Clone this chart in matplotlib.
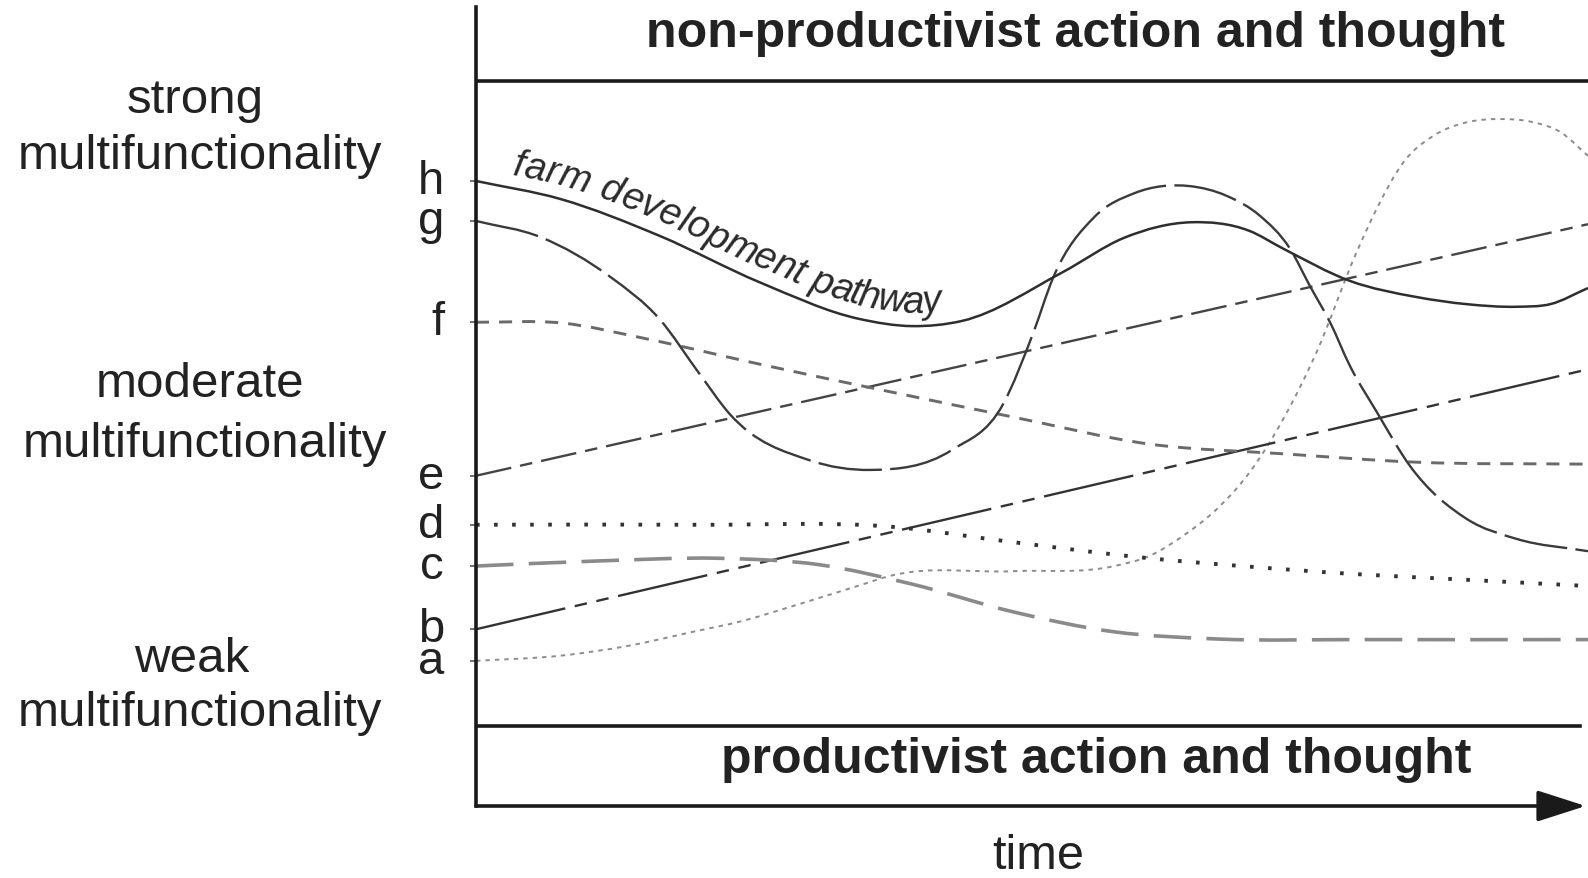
import numpy as np
import matplotlib

matplotlib.use("Agg")
import matplotlib.pyplot as plt
from matplotlib.path import Path
from matplotlib.patches import PathPatch
from matplotlib.font_manager import FontProperties

plt.rcParams["font.family"] = ["Liberation Sans", "DejaVu Sans"]
plt.rcParams["lines.scale_dashes"] = False

W, H, DPI = 1588, 879, 100
INK = "#1a1a1a"

# time axis runs 0..100, multifunctionality level 0 (productivist) .. 100 (non-productivist)
t_a = [0, 7.6, 13.6, 19.5, 24.0, 28.5, 34.3, 37.3, 48.3, 57.4, 60.6, 63.6, 66.6,
       69.6, 72.6, 75.6, 79.2, 81.0, 83.4, 86.1, 89.1, 92.1, 95.1, 97.5, 100]
lev_a = [10.1, 10.9, 12.4, 14.6, 16.3, 18.6, 21.7, 23.3, 24.0, 24.8, 26.4, 29.5, 33.6,
         39.4, 47.6, 58.0, 73.5, 80.2, 87.4, 91.5, 93.6, 94.1, 93.6, 92.1, 88.4]

t_b = [0, 100]
lev_b = [15.0, 55.3]

t_c = [0, 11.2, 21.9, 30.9, 39.2, 48.3, 57.4, 66.5, 80.0, 100]
lev_c = [24.8, 25.6, 26.0, 25.0, 22.0, 17.7, 14.6, 13.5, 13.4, 13.4]

t_d = [0, 20.1, 37.3, 48.3, 60.6, 69.6, 78.6, 87.6, 100]
lev_d = [31.2, 31.2, 30.9, 28.5, 26.0, 24.7, 23.6, 22.8, 21.7]

t_e = [0, 100]
lev_e = [38.8, 77.8]

t_f = [0, 7.6, 15.4, 25.5, 37.3, 48.3, 60.6, 72.6, 84.6, 100]
lev_f = [62.6, 62.5, 60.0, 56.1, 51.8, 47.9, 43.7, 42.2, 40.9, 40.6]

t_g = [0, 5.8, 12.1, 16.5, 20.1, 22.8, 30.0, 35.5, 42.8, 47.4, 50.1, 51.9, 55.6,
       59.2, 64.2, 67.5, 70.5, 73.2, 75.0, 76.8, 78.6, 81.0, 84.0, 89.1, 93.6, 100]
lev_g = [78.3, 75.8, 69.6, 63.1, 54.6, 48.4, 41.2, 39.7, 42.8, 49.9, 60.9, 69.5, 78.9,
         82.6, 83.7, 82.2, 79.1, 74.0, 68.2, 62.6, 55.8, 48.7, 40.3, 32.1, 29.0, 27.1]

t_h = [0, 7.6, 16.5, 25.5, 34.5, 39.2, 43.7, 52.8, 58.3, 64.3, 69.5, 72.6, 78.6,
       84.6, 89.1, 93.6, 96.6, 100]
lev_h = [84.5, 81.7, 76.0, 68.8, 63.1, 62.0, 62.8, 70.4, 75.7, 78.1, 76.8, 74.0, 69.0,
         66.5, 65.4, 65.0, 65.4, 67.9]

labels = ["a", "b", "c", "d", "e", "f", "g", "h"]
series_t = [t_a, t_b, t_c, t_d, t_e, t_f, t_g, t_h]
series_lev = [lev_a, lev_b, lev_c, lev_d, lev_e, lev_f, lev_g, lev_h]

# line styles (dash patterns in points)
styles = {
    "a": dict(color="#8c8c8c", lw=1.4, dashes=(3.2, 3.6)),
    "b": dict(color="#333333", lw=1.7, dashes=(66, 7, 9, 7, 9, 7)),
    "c": dict(color="#8a8a8a", lw=2.6, dashes=(27, 11)),
    "d": dict(color="#333333", lw=2.8, dashes=(2.6, 10.4)),
    "e": dict(color="#444444", lw=1.7, dashes=(26, 6.5, 9, 6.5)),
    "f": dict(color="#6a6a6a", lw=2.1, dashes=(9.4, 7.2)),
    "g": dict(color="#3a3a3a", lw=1.7, dashes=(46, 6)),
    "h": dict(color="#2e2e2e", lw=1.8, dashes=None),
}


def spline_ctrl(x, y):
    """Cubic Hermite through the read points (tangents from neighbours), as beziers."""
    x = np.asarray(x, float)
    y = np.asarray(y, float)
    m = np.gradient(y, x)
    segs = []
    for i in range(len(x) - 1):
        dx = (x[i + 1] - x[i]) / 3
        segs.append((np.array([x[i], y[i]]),
                     np.array([x[i] + dx, y[i] + m[i] * dx]),
                     np.array([x[i + 1] - dx, y[i + 1] - m[i + 1] * dx]),
                     np.array([x[i + 1], y[i + 1]])))
    return segs


def spline_path(x, y):
    segs = spline_ctrl(x, y)
    verts = [segs[0][0]]
    codes = [Path.MOVETO]
    for s in segs:
        verts += [s[1], s[2], s[3]]
        codes += [Path.CURVE4] * 3
    return Path(np.array(verts), codes)


def spline_sample(x, y, n=60):
    u = np.linspace(0, 1, n)[:, None]
    out = []
    for a, b, c, d in spline_ctrl(x, y):
        out.append((1 - u) ** 3 * a + 3 * (1 - u) ** 2 * u * b + 3 * (1 - u) * u ** 2 * c + u ** 3 * d)
    return np.vstack(out)


fig = plt.figure(figsize=(W / DPI, H / DPI), dpi=DPI)
# frame: left spine x=476..1588 px, y=8..807 px ; level 0 at y=727, level 100 at y=82
px_per_lev = (727 - 82) / 100
ax = fig.add_axes([476 / W, (H - 807) / H, (W - 476) / W, (807 - 8) / H])
ax.set_xlim(0, 100)
ax.set_ylim(-(807 - 727) / px_per_lev, 100 + (82 - 8) / px_per_lev)

for name, tt, yy in zip(labels, series_t, series_lev):
    st = styles[name]
    ls = "-" if st["dashes"] is None else (0, st["dashes"])
    ax.add_patch(PathPatch(spline_path(tt, yy), fill=False, edgecolor=st["color"],
                           lw=st["lw"], linestyle=ls, capstyle="butt", joinstyle="round"))

# band boundaries
ax.axhline(100, color=INK, lw=2.6)
ax.axhline(0, xmax=(1580 - 476) / (W - 476), color=INK, lw=2.6)

for sp in ["top", "right", "bottom"]:
    ax.spines[sp].set_visible(False)
ax.spines["left"].set_linewidth(2.6)
ax.spines["left"].set_color(INK)
ax.set_xticks([])
ax.set_yticks([s[0] for s in series_lev], labels)
ax.tick_params(axis="y", length=4, width=1.2, color="#555555", pad=19,
               labelsize=34, labelcolor="#222222")
plt.setp(ax.get_yticklabels(), va="center")

# time arrow
ax.annotate("", xy=(0.998, 0), xytext=(0, 0), xycoords="axes fraction",
            arrowprops=dict(arrowstyle="-|>,head_length=1.0,head_width=0.32",
                            mutation_scale=30, lw=2.6, color=INK,
                            shrinkA=0, shrinkB=0))

# band and axis texts
fig.text(1076 / W, 1 - 34 / H, "non-productivist action and thought", ha="center",
         va="center", fontsize=36, fontweight="bold", color="#222222")
fig.text(1096 / W, 1 - 760 / H, "productivist action and thought", ha="center",
         va="center", fontsize=36, fontweight="bold", color="#222222")
fig.text(1038 / W, 1 - 857 / H, "time", ha="center", va="center", fontsize=35,
         color="#222222")

left_text = [("strong", 195, 113), ("multifunctionality", 200, 169),
             ("moderate", 200, 397), ("multifunctionality", 205, 457),
             ("weak", 192, 672), ("multifunctionality", 200, 726)]
for s, x, y in left_text:
    fig.text(x / W, 1 - y / H, s, ha="center", va="baseline", fontsize=35.5,
             color="#222222")

# "farm development pathway" written along curve h
caption = "farm development pathway"
fp = FontProperties(family=["Liberation Sans", "DejaVu Sans"], style="italic", size=27.5)
rend = fig.canvas.get_renderer()
disp = ax.transData.transform(spline_sample(t_h, lev_h))
seg = np.diff(disp, axis=0)
seglen = np.hypot(seg[:, 0], seg[:, 1])
cum = np.concatenate([[0], np.cumsum(seglen)])
s0 = cum[np.argmax(disp[:, 0] >= 508)]
offset = 14


def textw(s):
    return rend.get_text_width_height_descent(s, fp, ismath=False)[0]


inv = ax.transData.inverted()
for i, ch in enumerate(caption):
    if ch == " ":
        continue
    s = s0 + textw(caption[:i + 1]) - textw(ch) / 2
    k = min(np.searchsorted(cum, s) - 1, len(seg) - 1)
    k = max(k, 0)
    d = seg[k] / seglen[k]
    base = disp[k] + d * (s - cum[k])
    nrm = np.array([-d[1], d[0]])
    pos = inv.transform(base + nrm * offset)
    ang = np.degrees(np.arctan2(d[1], d[0]))
    ax.text(pos[0], pos[1], ch, fontproperties=fp, rotation=ang,
            rotation_mode="anchor", ha="center", va="baseline", color="#2a2a2a")

fig.savefig("out.png", dpi=DPI, facecolor="white")
plt.close(fig)
